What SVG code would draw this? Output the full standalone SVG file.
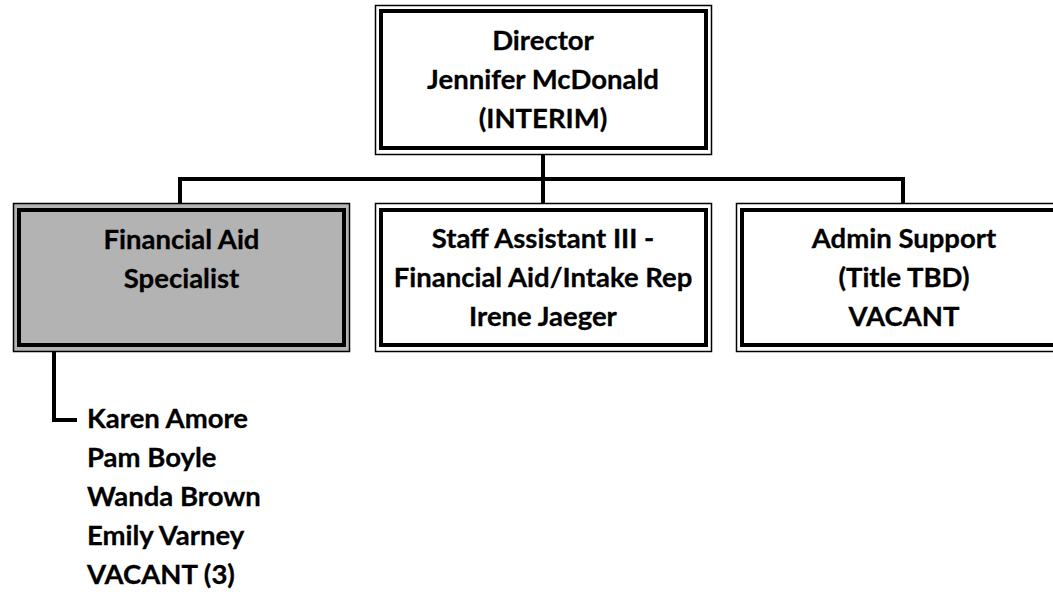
<svg xmlns="http://www.w3.org/2000/svg" width="1053" height="592" viewBox="0 0 1053 592">
<style>
.outer{fill:#fff;stroke:#000;stroke-width:1.5}
.inner{fill:none;stroke:#000;stroke-width:4}
.gray{fill:#b3b3b3}
.t{font-family:Lato,"Open Sans","Liberation Sans",sans-serif;font-weight:bold;font-size:27.5px;fill:#000;stroke:#000;stroke-width:0.3;text-anchor:middle}
.l{text-anchor:start}
.conn{fill:none;stroke:#000;stroke-width:4}
</style>
<rect width="1053" height="592" fill="#fff"/>
<g id="connectors">
<path class="conn" d="M543,150 V179 M180,179 H903 M180,177 V205 M543,179 V205 M903,177 V205"/>
<path class="conn" d="M54,348 V420 H77"/>
</g>
<g id="director">
<rect class="outer" x="375.5" y="5.5" width="336" height="149"/>
<rect class="inner" x="381" y="11" width="325" height="137"/>
<text class="t" x="543" y="50">Director</text>
<text class="t" x="543" y="89">Jennifer McDonald</text>
<text class="t" x="543" y="128">(INTERIM)</text>
</g>
<g id="fa-specialist">
<rect class="outer gray" x="13.5" y="203.5" width="336" height="148"/>
<rect class="inner" x="19" y="210" width="325" height="135"/>
<text class="t" x="181.5" y="249">Financial Aid</text>
<text class="t" x="181.5" y="288">Specialist</text>
</g>
<g id="staff-assistant">
<rect class="outer" x="375.5" y="203.5" width="336" height="148"/>
<rect class="inner" x="381" y="210" width="325" height="135"/>
<text class="t" x="543" y="248">Staff Assistant III -</text>
<text class="t" x="543" y="287">Financial Aid/Intake Rep</text>
<text class="t" x="543" y="326">Irene Jaeger</text>
</g>
<g id="admin-support">
<rect class="outer" x="736.5" y="203.5" width="336" height="148"/>
<rect class="inner" x="742" y="210" width="325" height="135"/>
<text class="t" x="904" y="248">Admin Support</text>
<text class="t" x="904" y="287">(Title TBD)</text>
<text class="t" x="904" y="326">VACANT</text>
</g>
<g id="fa-staff">
<text class="t l" x="87" y="428">Karen Amore</text>
<text class="t l" x="87" y="467">Pam Boyle</text>
<text class="t l" x="87" y="506">Wanda Brown</text>
<text class="t l" x="87" y="545">Emily Varney</text>
<text class="t l" x="87" y="584">VACANT (3)</text>
</g>
</svg>
